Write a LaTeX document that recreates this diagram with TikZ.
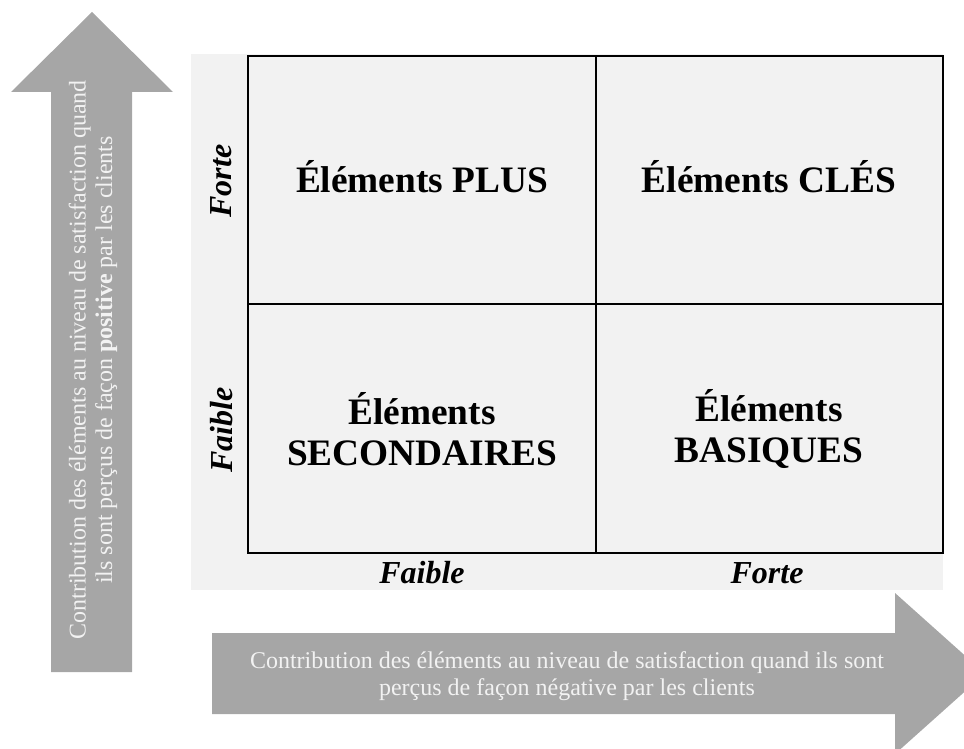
\documentclass[tikz,border=0pt]{standalone}
\usepackage{fontspec}
\setmainfont{Liberation Serif}
\definecolor{arrowgray}{HTML}{A6A6A6}
\definecolor{panelgray}{HTML}{F2F2F2}
\tikzset{
	quadlabel/.style={font=\fontsize{28}{31}\selectfont\bfseries, align=center},
	axislabel/.style={font=\fontsize{24}{28}\selectfont\bfseries\itshape, anchor=base},
	arrowtext/.style={font=\fontsize{18}{20}\selectfont, text=panelgray, align=center},
}
\begin{document}
\begin{tikzpicture}[x=0.75pt,y=-0.75pt]
	\useasboundingbox (0,0) rectangle (964,749);
	\clip (0,0) rectangle (964,749);
	% Background
	\fill [panelgray] (191,54) rectangle (943,590);
	% Arrows
	\fill [arrowgray] (51,672) -- (51,92) -- (11,92) -- (92,12) -- (173,92) -- (132,92) -- (132,672) -- cycle;
	\fill [arrowgray] (212,633) -- (895,633) -- (895,593) -- (985,673.5) -- (895,754) -- (895,714) -- (212,714) -- cycle;
	% Matrix
	\draw [black,line width=1.5pt,fill=panelgray] (248,56) rectangle (943,553);
	\draw [black,line width=1.5pt] (596,56) -- (596,553);
	\draw [black,line width=1.5pt] (248,304) -- (943,304);
	%Quadrants
	\node[quadlabel] (plus) at (422,177) {Éléments PLUS};
	\node[quadlabel] (cles) at (769,177) {Éléments CLÉS};
	\node[quadlabel] (secondaires) at (422,429) {Éléments\\SECONDAIRES};
	\node[quadlabel] (basiques) at (769,429) {Éléments\\BASIQUES};
	%Axis labels
	\node[axislabel,rotate=90] (yforte) at (231,181) {Forte};
	\node[axislabel,rotate=90] (yfaible) at (232,430) {Faible};
	\node[axislabel] (xfaible) at (422,583) {Faible};
	\node[axislabel] (xforte) at (767,583) {Forte};
	%Arrow texts
	\node[arrowtext,rotate=90] (ytext) at (93,360) {Contribution des éléments au niveau de satisfaction quand\\ils sont perçus de façon \textbf{positive} par les clients};
	\node[arrowtext] (xtext) at (567,676) {Contribution des éléments au niveau de satisfaction quand ils sont\\perçus de façon négative par les clients};
\end{tikzpicture}
\end{document}
